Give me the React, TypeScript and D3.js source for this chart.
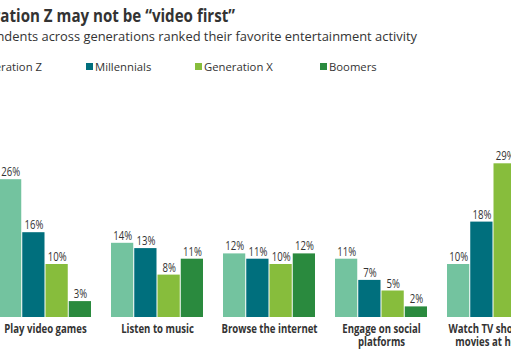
import React, { useEffect, useRef } from 'react';
import * as d3 from 'd3';

const categories = [
	['Play video games'],
	['Listen to music'],
	['Browse the internet'],
	['Engage on social', 'platforms'],
	['Watch TV shows or', 'movies at home']
];
const series = ['Generation Z', 'Millennials', 'Generation X', 'Boomers'];
const colors = ['#73c39f', '#006f7d', '#87bd3c', '#2a8a3e'];
const genZ = [26, 14, 12, 11, 10];
const millennials = [16, 13, 11, 7, 18];
const genX = [10, 8, 10, 5, 29];
const boomers = [3, 11, 12, 2, 10];

const title = 'Generation Z may not be \u201cvideo first\u201d';
const subtitle = 'Respondents across generations ranked their favorite entertainment activity';

const sans = "'Open Sans', sans-serif";
const squeeze = 0.8; // fake a condensed face

const App = () => {
	const ref = useRef<SVGSVGElement>(null);

	useEffect(() => {
		const width = 511;
		const height = 358;
		const baseline = 317;
		const step = 112;
		const inner = 19 / 112;

		const svg = d3.select(ref.current);
		svg.selectAll('*').remove();

		const values = [genZ, millennials, genX, boomers];
		const keys = categories.map(c => c.join(' '));

		const x0 = d3
			.scaleBand()
			.domain(keys)
			.range([-1, -1 + step * (keys.length - inner)])
			.paddingInner(inner)
			.paddingOuter(0);

		const x1 = d3
			.scaleBand()
			.domain(series)
			.range([0, x0.bandwidth()]);

		const y = d3
			.scaleLinear()
			.domain([0, 30])
			.range([baseline, baseline - 30 * 5.3]);

		// title + subtitle (cropped on the left like the source)
		svg.append('text')
			.attr('transform', `translate(235, 22) scale(0.84, 1)`)
			.attr('text-anchor', 'end')
			.style('font-family', sans)
			.style('font-weight', 'bold')
			.style('font-size', '18px')
			.style('fill', '#333')
			.text(title);

		svg.append('text')
			.attr('x', 417)
			.attr('y', 41)
			.attr('text-anchor', 'end')
			.style('font-family', sans)
			.style('font-size', '12.9px')
			.style('fill', '#333')
			.text(subtitle);

		// legend
		const legendX = [-40, 86, 195, 320];
		const legend = svg
			.selectAll('g.legend')
			.data(series)
			.enter()
			.append('g')
			.attr('class', 'legend')
			.attr('transform', (d, i) => `translate(${legendX[i]}, 63)`);

		legend
			.append('rect')
			.attr('width', 7)
			.attr('height', 7)
			.attr('fill', (d, i) => colors[i]);

		legend
			.append('text')
			.attr('x', (d, i) => (i === 0 ? 82 : 9))
			.attr('y', 7.5)
			.attr('text-anchor', (d, i) => (i === 0 ? 'end' : 'start'))
			.style('font-family', sans)
			.style('font-size', '11.3px')
			.style('fill', '#333')
			.text(d => d);

		// bars
		const groups = svg
			.selectAll('g.group')
			.data(keys)
			.enter()
			.append('g')
			.attr('class', 'group')
			.attr('transform', d => `translate(${x0(d)}, 0)`);

		groups.each(function (key, ci) {
			const g = d3.select(this);
			series.forEach((s, si) => {
				const v = values[si][ci];
				g.append('rect')
					.attr('x', x1(s))
					.attr('y', y(v))
					.attr('width', x1.bandwidth() - 1)
					.attr('height', baseline - y(v))
					.attr('fill', colors[si]);

				g.append('text')
					.attr('transform', `translate(${x1(s) + x1.bandwidth() / 2}, ${y(v) - 3}) scale(${squeeze}, 1)`)
					.attr('text-anchor', 'middle')
					.style('font-family', sans)
					.style('font-size', '12px')
					.style('fill', '#333')
					.text(`${v}%`);
			});

			const label = g
				.append('text')
				.attr('transform', `translate(${x0.bandwidth() / 2}, 333) scale(${squeeze}, 1)`)
				.attr('text-anchor', 'middle')
				.style('font-family', sans)
				.style('font-weight', 'bold')
				.style('font-size', '12px')
				.style('fill', '#333');

			categories[ci].forEach((line, li) => {
				label
					.append('tspan')
					.attr('x', 0)
					.attr('y', li * 12.5)
					.text(line);
			});
		});

		svg.attr('width', width).attr('height', height);
	}, []);

	return (
		<svg
			ref={ref}
			width={511}
			height={358}
			style={{ position: 'absolute', left: 0, top: 0, background: '#fff' }}
		/>
	);
};

export default App;
